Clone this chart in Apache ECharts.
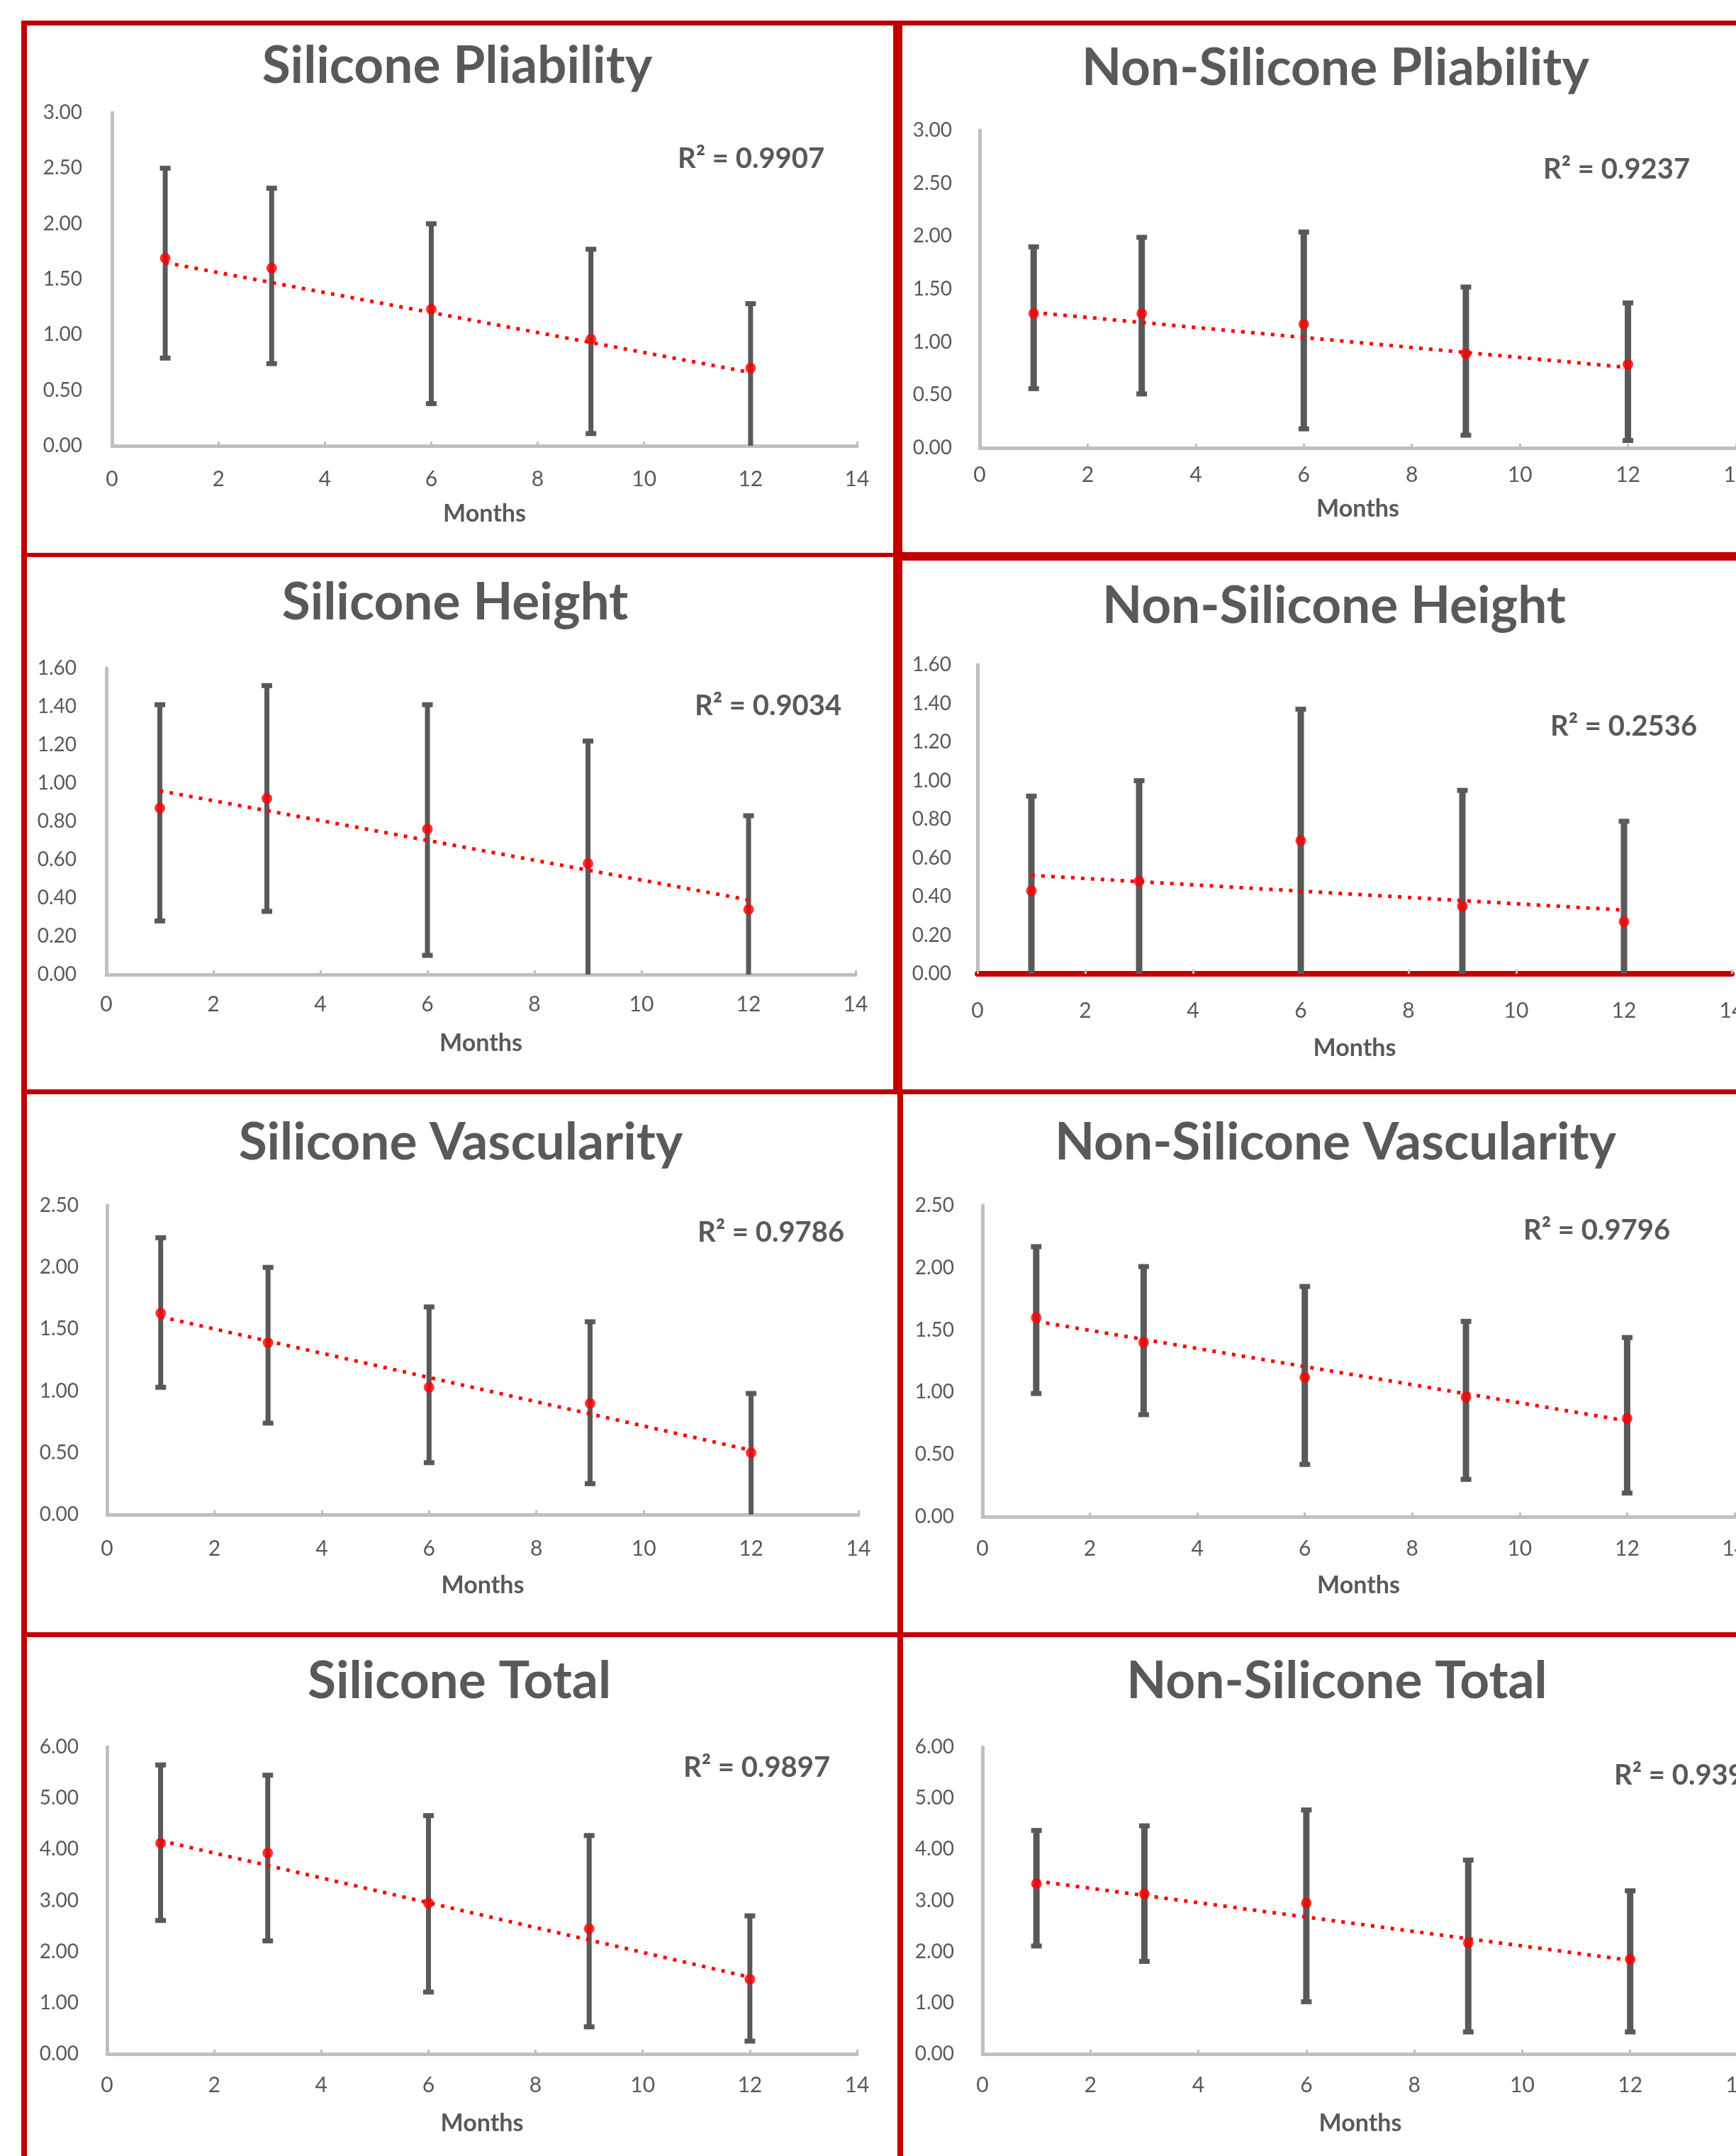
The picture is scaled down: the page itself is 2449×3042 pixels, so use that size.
<!DOCTYPE html>
<html>
<head>
<meta charset="utf-8">
<title>Silicone vs Non-Silicone scar scores</title>
<script src="https://cdn.jsdelivr.net/npm/echarts@6/dist/echarts.min.js"></script>
<style>
    html, body { margin: 0; padding: 0; background: #fff; }
    #chart { width: 2449px; height: 3042px; }
</style>
</head>
<body>
<div id="chart"></div>
<script>
// follow-up months (x of every panel)
var months = [1, 3, 6, 9, 12];

// Silicone Pliability
var silPliMean = [1.69, 1.60, 1.23, 0.96, 0.70];
var silPliLow = [0.79, 0.74, 0.38, 0.11, 0];
var silPliHigh = [2.50, 2.32, 2.00, 1.77, 1.28];
var silPliTrend = [1.65, 0.66];

// Non-Silicone Pliability
var nonPliMean = [1.27, 1.27, 1.17, 0.89, 0.79];
var nonPliLow = [0.56, 0.51, 0.18, 0.12, 0.07];
var nonPliHigh = [1.90, 1.99, 2.04, 1.52, 1.37];
var nonPliTrend = [1.28, 0.76];

// Silicone Height
var silHgtMean = [0.87, 0.92, 0.76, 0.58, 0.34];
var silHgtLow = [0.28, 0.33, 0.10, 0, 0];
var silHgtHigh = [1.41, 1.51, 1.41, 1.22, 0.83];
var silHgtTrend = [0.96, 0.39];

// Non-Silicone Height
var nonHgtMean = [0.43, 0.48, 0.69, 0.35, 0.27];
var nonHgtLow = [0, 0, 0, 0, 0];
var nonHgtHigh = [0.92, 1.00, 1.37, 0.95, 0.79];
var nonHgtTrend = [0.51, 0.33];

// Silicone Vascularity
var silVasMean = [1.63, 1.39, 1.03, 0.90, 0.50];
var silVasLow = [1.03, 0.74, 0.42, 0.25, 0];
var silVasHigh = [2.24, 2.00, 1.68, 1.56, 0.98];
var silVasTrend = [1.60, 0.52];

// Non-Silicone Vascularity
var nonVasMean = [1.60, 1.40, 1.12, 0.96, 0.79];
var nonVasLow = [0.99, 0.82, 0.42, 0.30, 0.19];
var nonVasHigh = [2.17, 2.01, 1.85, 1.57, 1.44];
var nonVasTrend = [1.57, 0.77];

// Silicone Total
var silTotMean = [4.12, 3.93, 2.95, 2.45, 1.46];
var silTotLow = [2.61, 2.21, 1.21, 0.53, 0.25];
var silTotHigh = [5.65, 5.45, 4.66, 4.27, 2.70];
var silTotTrend = [4.17, 1.50];

// Non-Silicone Total
var nonTotMean = [3.33, 3.13, 2.95, 2.17, 1.85];
var nonTotLow = [2.11, 1.81, 1.02, 0.43, 0.43];
var nonTotHigh = [4.37, 4.46, 4.77, 3.79, 3.19];
var nonTotTrend = [3.38, 1.83];

var titles = ['Silicone Pliability', 'Non-Silicone Pliability', 'Silicone Height', 'Non-Silicone Height',
    'Silicone Vascularity', 'Non-Silicone Vascularity', 'Silicone Total', 'Non-Silicone Total'];
var r2Labels = ['R² = 0.9907', 'R² = 0.9237', 'R² = 0.9034', 'R² = 0.2536',
    'R² = 0.9786', 'R² = 0.9796', 'R² = 0.9897', 'R² = 0.9393'];
var yMax = [3, 3, 1.6, 1.6, 2.5, 2.5, 6, 6];
var yStep = [0.5, 0.5, 0.2, 0.2, 0.5, 0.5, 1, 1];
var xMax = 14, xStep = 2;

var FONT = 'Lato, "Open Sans", sans-serif';
var GREY = '#595959';
var AXIS = '#BFBFBF';
var RED = '#C00000';

// panel geometry (px): plot box, title centre, R2 label, Months label, label gaps
var panels = [
    {mean: silPliMean, low: silPliLow, high: silPliHigh, trend: silPliTrend,
        box: [158, 159, 1209, 629], title: [645, 93], r2: [956, 224], monthsY: 725, xGap: 32, yGap: 42, bar: 7},
    {mean: nonPliMean, low: nonPliLow, high: nonPliHigh, trend: nonPliTrend,
        box: [1382, 184, 2449, 632], title: [1884, 96], r2: [2177, 239], monthsY: 718, xGap: 23, yGap: 39, bar: 9},
    {mean: silHgtMean, low: silHgtLow, high: silHgtHigh, trend: silHgtTrend,
        box: [150, 943, 1207, 1375], title: [642, 850], r2: [980, 996], monthsY: 1472, xGap: 27, yGap: 42, bar: 7},
    {mean: nonHgtMean, low: nonHgtLow, high: nonHgtHigh, trend: nonHgtTrend,
        box: [1379, 938, 2443, 1374], title: [1882, 855], r2: [2187, 1025], monthsY: 1479, xGap: 37, yGap: 37, bar: 9,
        redAxis: true},
    {mean: silVasMean, low: silVasLow, high: silVasHigh, trend: silVasTrend,
        box: [151, 1701, 1211, 2137], title: [650, 1612], r2: [984, 1739], monthsY: 2237, xGap: 33, yGap: 40, bar: 7},
    {mean: nonVasMean, low: nonVasLow, high: nonVasHigh, trend: nonVasTrend,
        box: [1386, 1701, 2447, 2140], title: [1884, 1612], r2: [2149, 1736], monthsY: 2237, xGap: 30, yGap: 40, bar: 9},
    {mean: silTotMean, low: silTotLow, high: silTotHigh, trend: silTotTrend,
        box: [151, 2465, 1209, 2898], title: [648, 2372], r2: [964, 2494], monthsY: 2996, xGap: 29, yGap: 40, bar: 7},
    {mean: nonTotMean, low: nonTotLow, high: nonTotHigh, trend: nonTotTrend,
        box: [1386, 2465, 2452, 2898], title: [1886, 2372], r2: [2277, 2505], monthsY: 2996, xGap: 29, yGap: 40, bar: 9}
];

function errorBars(barW) {
    var capW = 15, capH = 7;
    return function (params, api) {
        var x = api.value(0);
        var lo = api.coord([x, api.value(1)]);
        var hi = api.coord([x, api.value(2)]);
        var kids = [
            {type: 'rect', shape: {x: hi[0] - barW / 2, y: hi[1], width: barW, height: lo[1] - hi[1]}, style: {fill: GREY}},
            {type: 'rect', shape: {x: hi[0] - capW / 2, y: hi[1] - capH / 2, width: capW, height: capH}, style: {fill: GREY}}
        ];
        // bars reaching the axis are clipped there in the original, no cap
        if (api.value(1) > 0) {
            kids.push({type: 'rect', shape: {x: lo[0] - capW / 2, y: lo[1] - capH / 2, width: capW, height: capH}, style: {fill: GREY}});
        }
        return {type: 'group', children: kids};
    };
}

var grids = [], xAxes = [], yAxes = [], series = [];
var elements = [];

panels.forEach(function (p, i) {
    var b = p.box;
    grids.push({left: b[0], top: b[1], width: b[2] - b[0], height: b[3] - b[1],
        containLabel: false, outerBoundsMode: 'none'});
    xAxes.push({
        gridIndex: i, type: 'value', min: 0, max: xMax, interval: xStep,
        axisLine: {show: true, onZero: false, lineStyle: {color: p.redAxis ? RED : AXIS, width: p.redAxis ? 8 : 5}},
        axisTick: {show: true, inside: true, length: 6, lineStyle: {color: AXIS, width: 3}},
        axisLabel: {fontSize: 30, color: GREY, fontFamily: FONT, margin: p.xGap, showMaxLabel: true, showMinLabel: true},
        splitLine: {show: false}
    });
    yAxes.push({
        gridIndex: i, type: 'value', min: 0, max: yMax[i], interval: yStep[i],
        axisLine: {show: true, lineStyle: {color: AXIS, width: 5}},
        axisTick: {show: false},
        axisLabel: {fontSize: 28, color: GREY, fontFamily: FONT, margin: p.yGap,
            formatter: function (v) { return v.toFixed(2); }},
        splitLine: {show: false}
    });

    series.push({
        type: 'custom', xAxisIndex: i, yAxisIndex: i, z: 2,
        renderItem: errorBars(p.bar),
        encode: {x: 0, y: [1, 2]},
        data: months.map(function (m, k) { return [m, p.low[k], p.high[k]]; })
    });
    series.push({
        type: 'line', xAxisIndex: i, yAxisIndex: i, z: 3,
        symbol: 'none',
        lineStyle: {color: '#FF0000', width: 5, type: [5, 9]},
        data: [[months[0], p.trend[0]], [months[months.length - 1], p.trend[1]]]
    });
    series.push({
        type: 'scatter', xAxisIndex: i, yAxisIndex: i, z: 4,
        symbol: 'circle', symbolSize: 15,
        itemStyle: {color: '#FF0000'},
        data: months.map(function (m, k) { return [m, p.mean[k]]; })
    });

    elements.push({type: 'text', x: p.title[0], y: p.title[1],
        style: {text: titles[i], font: 'bold 73px ' + FONT, fill: GREY, align: 'center', verticalAlign: 'middle'}});
    elements.push({type: 'text', x: p.r2[0], y: p.r2[1],
        style: {text: r2Labels[i], font: 'bold 40px ' + FONT, fill: GREY, align: 'left', verticalAlign: 'middle'}});
    elements.push({type: 'text', x: (b[0] + b[2]) / 2, y: p.monthsY,
        style: {text: 'Months', font: 'bold 34px ' + FONT, fill: GREY, align: 'center', verticalAlign: 'middle'}});
});

// red frame around the panels
[
    [30, 29, 8, 3013], [30, 29, 2419, 7],
    [1260, 29, 13, 1515], [1266, 1537, 8, 1505],
    [30, 780, 1243, 6], [1260, 779, 1189, 12],
    [30, 1537, 2419, 7], [30, 2303, 2419, 7]
].forEach(function (r) {
    elements.push({type: 'rect', z: 100, shape: {x: r[0], y: r[1], width: r[2], height: r[3]}, style: {fill: RED}});
});

var chart = echarts.init(document.getElementById('chart'));
chart.setOption({
    animation: false,
    backgroundColor: '#ffffff',
    grid: grids,
    xAxis: xAxes,
    yAxis: yAxes,
    series: series,
    graphic: {elements: elements}
});

window.addEventListener('resize', function () {
    chart.resize();
});
</script>
</body>
</html>
